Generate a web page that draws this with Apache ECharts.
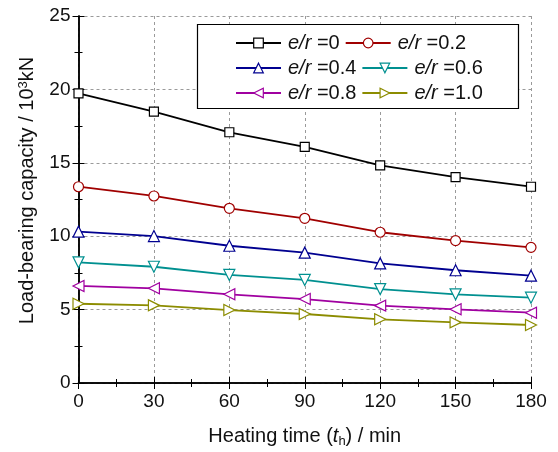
<!DOCTYPE html>
<html>
<head>
<meta charset="utf-8">
<script src="https://cdn.jsdelivr.net/npm/echarts@6/dist/echarts.min.js"></script>
<style>html,body{margin:0;padding:0;background:#fff;}#c{width:558px;height:452px;}</style>
</head>
<body>
<div id="c"></div>
<script>
// Heating time (min)
const heatingTime = [0, 30, 60, 90, 120, 150, 180];
// Load-bearing capacity (10^3 kN) for each eccentricity ratio e/r
const er00 = [19.73, 18.48, 17.08, 16.08, 14.83, 14.03, 13.37];
const er02 = [13.37, 12.74, 11.90, 11.22, 10.27, 9.70, 9.24];
const er04 = [10.31, 10.01, 9.35, 8.88, 8.15, 7.68, 7.31];
const er06 = [8.22, 7.92, 7.36, 7.02, 6.40, 6.04, 5.81];
const er08 = [6.61, 6.45, 6.04, 5.72, 5.27, 5.02, 4.79];
const er10 = [5.40, 5.29, 4.97, 4.70, 4.34, 4.13, 3.95];
const ratioLabels = ['0', '0.2', '0.4', '0.6', '0.8', '1.0'];
const xTicks = [0, 30, 60, 90, 120, 150, 180];
const yTicks = [0, 5, 10, 15, 20, 25];

const FONT = 'Liberation Sans, Arial, sans-serif';
const seriesData = [er00, er02, er04, er06, er08, er10];
const colors = ['#000000', '#a00000', '#000090', '#009090', '#a000a0', '#8c8c00'];
const symbols = ['rect', 'circle', 'triangle', 'triangle', 'triangle', 'triangle'];
const rotates = [0, 0, 0, 180, 90, -90];
const sizes = [9, 10, 11, 11, 11, 11];

const names = ratioLabels.map(v => 'e/r =' + v);

const series = seriesData.map((d, i) => ({
  name: names[i],
  type: 'line',
  data: d.map((v, k) => [heatingTime[k], v]),
  symbol: symbols[i],
  symbolRotate: rotates[i],
  symbolSize: sizes[i],
  showAllSymbol: true,
  lineStyle: { color: colors[i], width: 1.8 },
  itemStyle: { color: '#ffffff', borderColor: colors[i], borderWidth: 1.2 },
  z: 10 + i
}));

// legend: three rows of two entries each, flowing left to right
const rowY = [31, 56, 81];
const legends = rowY.map((y, r) => ({
  data: [0, 1].map(c => {
    const i = r * 2 + c;
    return { name: names[i], itemStyle: { color: '#ffffff', borderColor: colors[i], borderWidth: 1.2 } };
  }),
  orient: 'horizontal',
  left: 235,
  top: y,
  z: 60,
  itemWidth: 45,
  itemHeight: 12,
  itemGap: 5,
  padding: 0,
  selectedMode: false,
  formatter: n => '{i|e/r} =' + n.split('=')[1],
  textStyle: {
    fontFamily: FONT, fontSize: 20, lineHeight: 24, color: '#111', padding: [0, 0, 0, 2],
    rich: { i: { fontFamily: FONT, fontSize: 20, lineHeight: 24, fontStyle: 'italic', color: '#111' } }
  }
}));

const axisLine = { show: true, lineStyle: { color: '#000', width: 1.5 } };
const tick = { show: true, inside: true, length: 6, lineStyle: { color: '#000', width: 1 } };
const minor = { show: true, splitNumber: 2, length: 4, lineStyle: { color: '#000', width: 1 } };
const grid = { show: true, lineStyle: { color: '#9a9a9a', width: 1, type: [3, 3] } };

const option = {
  animation: false,
  backgroundColor: '#ffffff',
  grid: { left: 78.5, right: 27, top: 16, bottom: 69, containLabel: false, outerBoundsMode: 'none' },
  legend: legends,
  graphic: [{
    type: 'rect', shape: { x: 197.5, y: 24.5, width: 321, height: 84 },
    style: { fill: '#ffffff', stroke: '#000', lineWidth: 1.2 }, z: 50
  }],
  xAxis: [{
    type: 'value', min: 0, max: 180, interval: 30,
    axisLine, axisTick: tick, minorTick: minor, splitLine: grid,
    axisLabel: { fontFamily: FONT, fontSize: 19, color: '#111', margin: 9,
      formatter: v => xTicks.includes(v) ? String(v) : '' },
    name: '{n|Heating time (}{i|t}{s|h}{n|) / min}',
    nameLocation: 'middle', nameGap: 42,
    nameTextStyle: {
      rich: {
        n: { fontFamily: FONT, fontSize: 20, color: '#111' },
        i: { fontFamily: FONT, fontSize: 20, color: '#111', fontStyle: 'italic' },
        s: { fontFamily: FONT, fontSize: 13, color: '#111', verticalAlign: 'bottom', padding: [10, 0, 0, 0] }
      }
    }
  }, {
    type: 'value', position: 'top', min: 0, max: 180, interval: 30,
    axisLine, axisTick: tick, minorTick: minor, splitLine: { show: false },
    axisLabel: { show: false }
  }],
  yAxis: [{
    type: 'value', min: 0, max: 25, interval: 5,
    axisLine, axisTick: tick, minorTick: minor, splitLine: grid,
    axisLabel: { fontFamily: FONT, fontSize: 19, color: '#111', margin: 8,
      formatter: v => yTicks.includes(v) ? String(v) : '' },
    name: '{n|Load-bearing capacity / 10}{s|3}{n|kN}',
    nameLocation: 'middle', nameGap: 40,
    nameTextStyle: {
      padding: [0, 0, 0, 18],
      rich: {
        n: { fontFamily: FONT, fontSize: 20, color: '#111' },
        s: { fontFamily: FONT, fontSize: 13, color: '#111', verticalAlign: 'top', padding: [0, 0, 9, 0] }
      }
    }
  }, {
    type: 'value', position: 'right', min: 0, max: 25, interval: 5,
    axisLine, axisTick: tick, minorTick: minor, splitLine: { show: false },
    axisLabel: { show: false }
  }],
  series
};

const chart = echarts.init(document.getElementById('c'), null, { renderer: 'canvas' });
chart.setOption(option);
</script>
</body>
</html>
